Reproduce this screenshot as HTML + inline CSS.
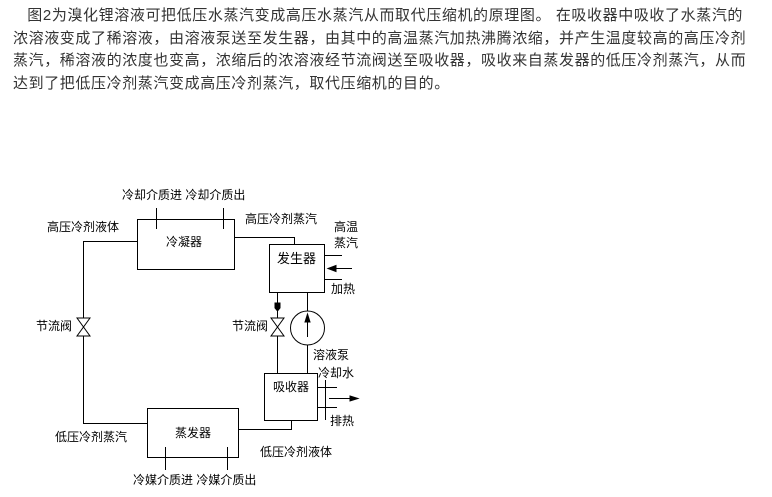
<!DOCTYPE html>
<html><head><meta charset="utf-8"><style>
body{margin:0;width:772px;height:497px;background:#fff;position:relative;overflow:hidden;font-family:"Liberation Sans","Noto Sans CJK SC",sans-serif}
.p{position:absolute;left:13px;top:5px;font-size:15px;letter-spacing:0.6px;line-height:22.7px;color:#333;white-space:nowrap}
.l{position:absolute;font-size:12px;color:#000;white-space:nowrap;line-height:12px}
svg{position:absolute;left:0;top:0}
</style></head><body>
<div class="p">&nbsp;&nbsp;&nbsp;图2为溴化锂溶液可把低压水蒸汽变成高压水蒸汽从而取代压缩机的原理图。 在吸收器中吸收了水蒸汽的<br>浓溶液变成了稀溶液，由溶液泵送至发生器，由其中的高温蒸汽加热沸腾浓缩，并产生温度较高的高压冷剂<br>蒸汽，稀溶液的浓度也变高，浓缩后的浓溶液经节流阀送至吸收器，吸收来自蒸发器的低压冷剂蒸汽，从而<br>达到了把低压冷剂蒸汽变成高压冷剂蒸汽，取代压缩机的目的。</div>
<svg width="772" height="497" stroke="#000" stroke-width="1" fill="none">
<rect x="137.5" y="219.5" width="97" height="50"/>
<line x1="156.5" y1="208" x2="156.5" y2="229"/><line x1="223.5" y1="208" x2="223.5" y2="229"/>
<polyline points="137,241.5 83.5,241.5 83.5,318"/>
<polyline points="83.5,336 83.5,423.5 147,423.5"/>
<path d="M77,318 L90,318 L77,336 L90,336 Z"/>
<rect x="147.5" y="408.5" width="91" height="49"/>
<line x1="165.5" y1="447" x2="165.5" y2="470"/><line x1="227.5" y1="447" x2="227.5" y2="470"/>
<polyline points="239,429.5 291.5,429.5 291.5,420"/>
<rect x="264.5" y="373.5" width="53" height="47"/>
<line x1="318" y1="387.5" x2="337" y2="387.5"/><line x1="318" y1="407.5" x2="337" y2="407.5"/>
<line x1="325.5" y1="380" x2="325.5" y2="420"/>
<line x1="329" y1="398.5" x2="352" y2="398.5"/><path d="M350,396 L358,398.5 L350,401 Z" fill="#000"/>
<rect x="269.5" y="244.5" width="55" height="48"/>
<polyline points="235,237.5 294.5,237.5 294.5,244"/>
<line x1="324" y1="255.5" x2="342" y2="255.5"/><line x1="324" y1="279.5" x2="342" y2="279.5"/>
<line x1="335" y1="268.5" x2="352" y2="268.5"/><path d="M336,265.5 L328,268.5 L336,271.5 Z" fill="#000"/>
<line x1="277.5" y1="292" x2="277.5" y2="318"/>
<path d="M275,303 L280,303 L280,308 L277.5,311 L275,308 Z" fill="#000"/>
<path d="M271,318 L284,318 L271,336 L284,336 Z"/>
<line x1="277.5" y1="336" x2="277.5" y2="373"/>
<line x1="307.5" y1="292" x2="307.5" y2="311"/>
<circle cx="307.5" cy="328" r="17"/>
<line x1="307.5" y1="345" x2="307.5" y2="373"/>
<line x1="307.5" y1="322" x2="307.5" y2="337"/><path d="M305,322 L307.5,314 L310,322 Z" fill="#000"/>
</svg>
<div class="l" style="left:122px;top:189px">冷却介质进 冷却介质出</div>
<div class="l" style="left:47px;top:221px">高压冷剂液体</div>
<div class="l" style="left:166px;top:236px">冷凝器</div>
<div class="l" style="left:245px;top:213px">高压冷剂蒸汽</div>
<div class="l" style="left:334px;top:221px">高温</div>
<div class="l" style="left:334px;top:237px">蒸汽</div>
<div class="l" style="left:277px;top:253px;font-size:13px">发生器</div>
<div class="l" style="left:331px;top:283px">加热</div>
<div class="l" style="left:36px;top:320px">节流阀</div>
<div class="l" style="left:232px;top:320px">节流阀</div>
<div class="l" style="left:313px;top:349px">溶液泵</div>
<div class="l" style="left:318px;top:367px">冷却水</div>
<div class="l" style="left:273px;top:381px">吸收器</div>
<div class="l" style="left:330px;top:415px">排热</div>
<div class="l" style="left:175px;top:427px">蒸发器</div>
<div class="l" style="left:55px;top:431px">低压冷剂蒸汽</div>
<div class="l" style="left:260px;top:446px">低压冷剂液体</div>
<div class="l" style="left:133px;top:474px">冷媒介质进 冷媒介质出</div>
</body></html>
